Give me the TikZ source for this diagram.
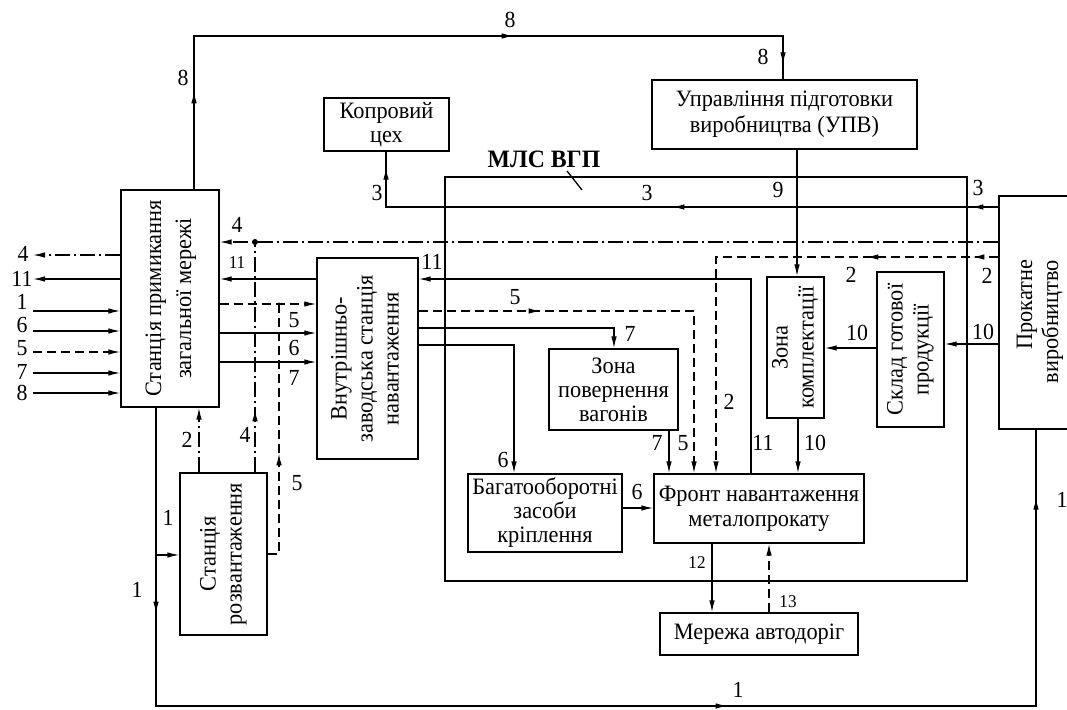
\documentclass[tikz,border=0pt]{standalone}
\usepackage{fontspec}
\setmainfont[FakeStretch=0.95]{Liberation Serif}
\usetikzlibrary{arrows.meta,decorations.markings}

\tikzset{
  box/.style={draw, line width=1.3pt, inner sep=0pt, align=center,
    font=\fontsize{23.5}{26}\selectfont},
  ln/.style={line width=1.3pt},
  dsh/.style={ln, dash pattern=on 9pt off 5pt},
  dd/.style={ln, dash pattern=on 15pt off 4pt on 2pt off 4pt},
  tip/.style={-{Latex[length=12pt,width=5.5pt]}},
  marr/.style={postaction={decorate,decoration={markings,
    mark=at position #1 with {\arrow[solid]{Latex[length=12pt,width=5.5pt]}}}}},
  lab/.style={font=\fontsize{23}{24}\selectfont, inner sep=0pt},
  slab/.style={font=\fontsize{18}{19}\selectfont, inner sep=0pt},
}
\newcommand{\vtext}[1]{\rotatebox{90}{\begin{tabular}{@{}c@{}}#1\end{tabular}}}
\newcommand{\vtextr}[1]{\rotatebox{90}{\begin{tabular}{@{}r@{}}#1\end{tabular}}}

\begin{document}
\begin{tikzpicture}[x=1pt,y=-1pt]
\useasboundingbox (0,0) rectangle (1067,709);

% ---- blocks ----
\node[box, minimum width=98pt, minimum height=217pt] (st) at (170,298.5)
  {\fontsize{23.5}{30}\selectfont\vtext{Станція примикання\\загальної мережі}};
\node[box, minimum width=125pt, minimum height=53pt, font=\fontsize{23.5}{24}\selectfont] (kop) at (386.5,124.5)
  {Копровий\\цех};
\node[box, minimum width=265pt, minimum height=69pt] (upv) at (784.5,114.5)
  {Управління підготовки\\виробництва (УПВ)};
\node[box, minimum width=101pt, minimum height=201pt] (vz) at (367.5,358.5)
  {\vtext{Внутрішньо-\\заводська станція\\навантаження}};
\node[box, minimum width=87pt, minimum height=162pt] (roz) at (223.5,554)
  {\vtext{Станція\\розвантаження}};
\node[box, minimum width=129pt, minimum height=81pt, font=\fontsize{23.5}{24}\selectfont] (zp) at (613.5,389.5)
  {Зона\\повернення\\вагонів};
\node[box, minimum width=57pt, minimum height=141pt] (zk) at (795.5,347.5)
  {\vtext{Зона\\комплектації}};
\node[box, minimum width=67pt, minimum height=155pt] (skl) at (910.5,349.5)
  {\vtext{Склад готової\\продукції}};
\node[box, minimum width=82pt, minimum height=233pt] (pr) at (1040,312.5)
  {\vtextr{Прокатне\hspace*{18pt}\\виробництво\hspace*{18pt}}};
\node[box, minimum width=154pt, minimum height=78pt, font=\fontsize{23.5}{24}\selectfont] (bag) at (545,513)
  {Багатооборотні\\засоби\\кріплення};
\node[box, minimum width=210pt, minimum height=69pt, font=\fontsize{23.5}{25}\selectfont] (fr) at (759,508.5)
  {Фронт навантаження\\металопрокату};
\node[box, minimum width=198pt, minimum height=42pt] (mer) at (759,634)
  {Мережа автодоріг};

% ---- system boundary ----
\node[draw, line width=2.6pt, minimum width=522pt, minimum height=404pt, inner sep=0pt] (mls) at (706,379) {};
\node[font=\fontsize{25}{26}\selectfont\bfseries, inner sep=0pt] (mlslab) at (544,159) {МЛС ВГП};
\coordinate (ldA) at (567,171);
\coordinate (ldB) at (582,190);
\draw[ln] (ldA) -- (ldB);

% ---- free ends on the left ----
\coordinate (o4) at (33,255);
\coordinate (o11) at (33,279);
\coordinate (i1) at (33,311);
\coordinate (i6) at (33,331);
\coordinate (i5) at (33,352);
\coordinate (i7) at (33,373);
\coordinate (i8) at (33,393);
\draw[dd,tip] (st.west|-o4) -- (o4);
\draw[ln,tip] (st.west|-o11) -- (o11);
\draw[ln,tip] (i1) -- (st.west|-i1);
\draw[ln,tip] (i6) -- (st.west|-i6);
\draw[dsh,tip] (i5) -- (st.west|-i5);
\draw[ln,tip] (i7) -- (st.west|-i7);
\draw[ln,tip] (i8) -- (st.west|-i8);

% ---- flow 8 ----
\draw[ln, marr=98pt, marr=473pt, marr=-15pt]
  (194,0|-st.north) -- (194,36) -- (783,36) -- (783,0|-upv.north);

% ---- flow 3 ----
\draw[ln, marr=27pt, marr=326pt, marr=-16pt]
  (pr.west|-0,207) -- (386,207) -- (386,0|-kop.south);

% ---- flow 9 ----
\draw[ln,tip] (797,0|-upv.south) -- (797,0|-zk.north);

% ---- flow 4 ----
\coordinate (j4) at (255,242);
\draw[dd,tip] (pr.west|-j4) -- (st.east|-j4);
\draw[dd, marr=63pt] (j4|-roz.north) -- (j4);
\fill (j4) circle (3pt);

% ---- flow 2 ----
\draw[dd,tip] (199,0|-roz.north) -- (199,0|-st.south);
\draw[dsh, marr=26pt, marr=132pt, tip]
  (pr.west|-0,257) -- (716,257) -- (716,0|-fr.north);

% ---- flow 5 ----
\coordinate (j5) at (279,304);
\draw[dsh, marr=112pt] (roz.east) -- (j5|-roz.east) -- (j5);
\fill (j5) circle (1.6pt);
\draw[dsh,tip] (st.east|-j5) -- (vz.west|-j5);
\draw[dsh, marr=122pt, tip] (vz.east|-0,311) -- (694,311) -- (694,0|-fr.north);

% ---- flows 6, 7, 11 ----
\draw[ln,tip] (st.east|-0,333) -- (vz.west|-0,333);
\draw[ln,tip] (st.east|-0,362) -- (vz.west|-0,362);
\draw[ln,tip] (vz.west|-0,279) -- (st.east|-0,279);
\draw[ln,tip] (751,0|-fr.north) -- (751,279) -- (vz.east|-0,279);
\draw[ln,tip] (vz.east|-0,328) -- (614,328) -- (614,0|-zp.north);
\draw[ln,tip] (vz.east|-0,345) -- (514,345) -- (514,0|-bag.north);
\draw[ln,tip] (669,0|-zp.south) -- (669,0|-fr.north);
\draw[ln,tip] (bag.east|-0,508) -- (fr.west|-0,508);

% ---- flow 10 ----
\draw[ln,tip] (pr.west|-0,344) -- (skl.east|-0,344);
\draw[ln,tip] (skl.west|-0,348) -- (zk.east|-0,348);
\draw[ln,tip] (798,0|-zk.south) -- (798,0|-fr.north);

% ---- flows 12, 13 ----
\draw[ln,tip] (712,0|-fr.south) -- (712,0|-mer.north);
\draw[dsh,tip] (769,0|-mer.north) -- (769,0|-fr.south);

% ---- flow 1 ----
\draw[ln, marr=206pt, marr=870pt, marr=-68pt]
  (156,0|-st.south) -- (156,706) -- (1036,706) -- (1036,0|-pr.south);
\coordinate (j1) at (156,555);
\draw[ln,tip] (j1) -- (roz.west|-j1);

% ---- flow numbers ----
\node[lab] (n8a) at (510,20) {8};
\node[lab] (n8b) at (183,78) {8};
\node[lab] (n8c) at (763,57) {8};
\node[lab] (nL4) at (23,254) {4};
\node[lab] (nL11) at (22,279) {11};
\node[lab] (nL1) at (22,302) {1};
\node[lab] (nL6) at (22,325) {6};
\node[lab] (nL5) at (22,348) {5};
\node[lab] (nL7) at (22,372) {7};
\node[lab] (nL8) at (22,393) {8};
\node[lab] (nR4) at (237,225) {4};
\node[slab] (nR11) at (237,263) {11};
\node[lab] (nR5) at (294,320) {5};
\node[lab] (nR6) at (294,348) {6};
\node[lab] (nR7) at (294,378) {7};
\node[lab] (nB2) at (187,440) {2};
\node[lab] (nB4) at (245,435) {4};
\node[lab] (nB5) at (297,483) {5};
\node[lab] (nB1a) at (168,518) {1};
\node[lab] (nB1b) at (137,590) {1};
\node[lab] (nV11) at (432,262) {11};
\node[lab] (nV5) at (515,297) {5};
\node[lab] (nV7) at (630,334) {7};
\node[lab] (nV6) at (503,460) {6};
\node[lab] (nZ7) at (657,443) {7};
\node[lab] (nZ5) at (683,443) {5};
\node[lab] (nZ2) at (729,402) {2};
\node[lab] (nZ11) at (763,443) {11};
\node[lab] (nK3) at (377,193) {3};
\node[lab] (nM3) at (647,193) {3};
\node[lab] (nP3) at (978,188) {3};
\node[lab] (n9) at (778,190) {9};
\node[lab] (nS2) at (851,275) {2};
\node[lab] (nP2) at (987,276) {2};
\node[lab] (nS10) at (857,333) {10};
\node[lab] (nP10) at (983,332) {10};
\node[lab] (nK10) at (815,443) {10};
\node[lab] (nF6) at (637,492) {6};
\node[slab] (n12) at (697,563) {12};
\node[slab] (n13) at (788,602) {13};
\node[lab] (nD1) at (738,690) {1};
\node[lab] (nE1) at (1062,500) {1};
\end{tikzpicture}
\end{document}
